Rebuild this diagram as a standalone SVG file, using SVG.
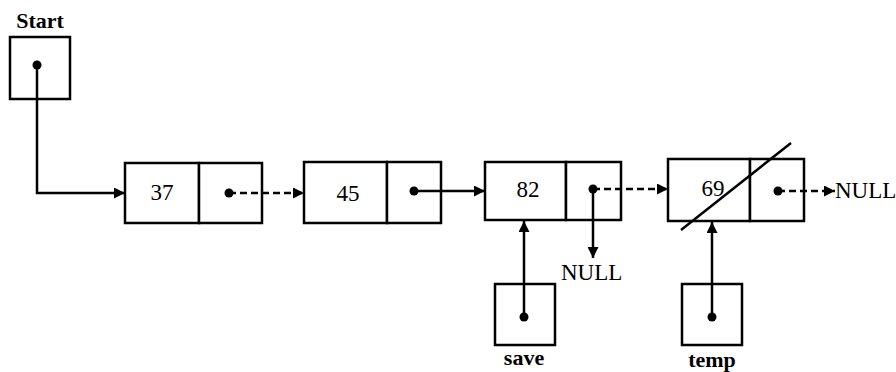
<svg xmlns="http://www.w3.org/2000/svg" width="896" height="372" viewBox="0 0 896 372">
<style>
.box{fill:#fff;stroke:#000;stroke-width:2.5}
.ln{fill:none;stroke:#000;stroke-width:2.5}
.sl{fill:none;stroke:#000;stroke-width:2}
.dash{stroke-dasharray:7 4}
.t{font-family:"Liberation Serif","Times New Roman",serif;font-size:23px;fill:#000}
.b{font-family:"Liberation Serif","Times New Roman",serif;font-size:22px;font-weight:bold;fill:#000}
.dot{fill:#000}
</style>
<defs>
<marker id="ah" viewBox="0 0 10 10" refX="10" refY="5" markerWidth="11" markerHeight="11" markerUnits="userSpaceOnUse" orient="auto">
<path d="M0,0 L10,5 L0,10 Z" fill="#000"/>
</marker>
</defs>
<g id="start">
<text class="b" x="40" y="28" text-anchor="middle">Start</text>
<rect class="box" x="10" y="37" width="60" height="62"/>
<circle class="dot" cx="37" cy="65" r="4.5"/>
</g>
<g id="n37">
<rect class="box" x="125" y="163" width="74" height="60"/>
<rect class="box" x="199" y="163" width="63" height="60"/>
<text class="t" x="162" y="200" text-anchor="middle">37</text>
<circle class="dot" cx="229" cy="193" r="4.5"/>
</g>
<g id="n45">
<rect class="box" x="304" y="162" width="83" height="61"/>
<rect class="box" x="387" y="162" width="54" height="61"/>
<text class="t" x="348" y="201" text-anchor="middle">45</text>
<circle class="dot" cx="414" cy="191" r="4.5"/>
</g>
<g id="n82">
<rect class="box" x="485" y="162" width="81" height="58"/>
<rect class="box" x="566" y="162" width="55" height="58"/>
<text class="t" x="528" y="197" text-anchor="middle">82</text>
<circle class="dot" cx="593" cy="189" r="4.5"/>
</g>
<g id="n69">
<rect class="box" x="668" y="159" width="82" height="62"/>
<rect class="box" x="750" y="159" width="54" height="62"/>
<text class="t" x="713" y="196" text-anchor="middle">69</text>
<circle class="dot" cx="778" cy="191" r="4.5"/>
<line class="ln" x1="681" y1="230" x2="791" y2="143"/>
</g>
<g id="save">
<rect class="box" x="495" y="284" width="60" height="61"/>
<circle class="dot" cx="524" cy="317" r="4.5"/>
<text class="b" x="524" y="365" text-anchor="middle">save</text>
</g>
<g id="temp">
<rect class="box" x="682" y="284" width="60" height="61"/>
<circle class="dot" cx="712" cy="317" r="4.5"/>
<text class="b" x="712" y="367" text-anchor="middle">temp</text>
</g>
<g id="nulls">
<text class="t" x="561" y="280">NULL</text>
<text class="t" x="835" y="198">NULL</text>
</g>
<g id="connectors">
<path class="ln" d="M37,65 V193 H125" marker-end="url(#ah)"/>
<path class="ln dash" d="M229,193 H304" marker-end="url(#ah)"/>
<path class="ln" d="M414,191 H485" marker-end="url(#ah)"/>
<path class="ln" d="M593,189 V258" marker-end="url(#ah)"/>
<path class="ln dash" d="M593,189 H668" marker-end="url(#ah)"/>
<path class="ln dash" d="M778,191 H835" marker-end="url(#ah)"/>
<path class="ln" d="M524,317 V221" marker-end="url(#ah)"/>
<path class="ln" d="M712,317 V222" marker-end="url(#ah)"/>
</g>
</svg>
